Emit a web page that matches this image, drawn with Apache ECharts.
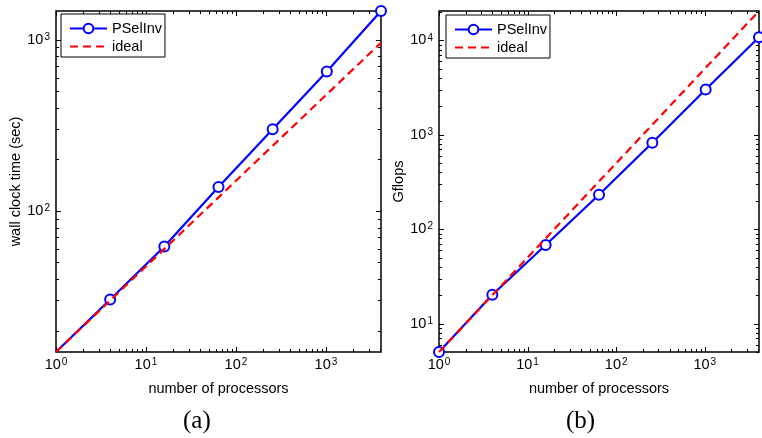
<!DOCTYPE html>
<html>
<head>
<meta charset="utf-8">
<script src="https://cdn.jsdelivr.net/npm/echarts@6/dist/echarts.min.js"></script>
<style>
html,body{margin:0;padding:0;background:#fff;}
#chart{width:762px;height:438px;}
</style>
</head>
<body>
<div id="chart"></div>
<script>
// ---- data ----
const processors = [1, 4, 16, 64, 256, 1024, 4096];
const timePSelInv = [15, 30.4, 62, 138, 300, 651, 1470];
const timeIdeal = [15, 30, 60, 120, 240, 480, 960];
const gflopsPSelInv = [5, 20.2, 68, 232, 824, 3020, 10800];
const gflopsIdeal = [5, 20, 80, 320, 1280, 5120, 20480];
const xTickLabels = [1, 10, 100, 1000];
const timeTickLabels = [100, 1000];
const gflopsTickLabels = [10, 100, 1000, 10000];
const xRange = [1, 4096];
const timeRange = [15, 1470];
const gflopsRange = [5, 20480];
const seriesNames = ['PSelInv', 'ideal'];
const captions = ['(a)', '(b)'];
const xTitle = 'number of processors';
const yTitles = ['wall clock time (sec)', 'Gflops'];

const FONT = '"Liberation Sans", Arial, Helvetica, sans-serif';

function pairs(xs, ys) { return xs.map((x, i) => [x, ys[i]]); }

function logTicks(range) {
  const out = [];
  const d0 = Math.floor(Math.log10(range[0]));
  const d1 = Math.ceil(Math.log10(range[1]));
  for (let d = d0; d <= d1; d++) {
    for (let m = 1; m <= 9; m++) {
      const v = m * Math.pow(10, d);
      if (v >= range[0] * 0.9999 && v <= range[1] * 1.0001) out.push({ v: v, major: m === 1 });
    }
  }
  return out;
}

function tickRenderer(xr, yr) {
  return function (params, api) {
    const bl = api.coord([xr[0], yr[0]]);
    const tr = api.coord([xr[1], yr[1]]);
    const ch = [];
    const st = { stroke: '#000', lineWidth: 1 };
    logTicks(xr).forEach(t => {
      const x = Math.round(api.coord([t.v, yr[0]])[0]) + 0.5;
      const L = t.major ? 5 : 3;
      ch.push({ type: 'line', shape: { x1: x, y1: bl[1], x2: x, y2: bl[1] - L }, style: st });
      ch.push({ type: 'line', shape: { x1: x, y1: tr[1], x2: x, y2: tr[1] + L }, style: st });
    });
    logTicks(yr).forEach(t => {
      const y = Math.round(api.coord([xr[0], t.v])[1]) + 0.5;
      const L = t.major ? 5 : 3;
      ch.push({ type: 'line', shape: { x1: bl[0], y1: y, x2: bl[0] + L, y2: y }, style: st });
      ch.push({ type: 'line', shape: { x1: tr[0], y1: y, x2: tr[0] - L, y2: y }, style: st });
    });
    return { type: 'group', children: ch };
  };
}

function powLabel(allowed) {
  return function (v) {
    for (const a of allowed) {
      if (Math.abs(v - a) / a < 1e-6) {
        const e = Math.round(Math.log10(a));
        return '{b|10}{s|' + e + '}';
      }
    }
    return '';
  };
}

const rich = {
  b: { fontSize: 14.5, lineHeight: 15, fontFamily: FONT, color: '#000', verticalAlign: 'bottom' },
  s: { fontSize: 10, lineHeight: 11, fontFamily: FONT, color: '#000', verticalAlign: 'top', padding: [0, 0, 10, 1] }
};

function xAxisDef(gi) {
  return {
    type: 'log', logBase: 10, gridIndex: gi, min: xRange[0], max: xRange[1],
    axisLine: { show: false }, axisTick: { show: false }, splitLine: { show: false },
    minorTick: { show: false },
    axisLabel: { formatter: powLabel(xTickLabels), rich: rich, margin: 5, showMinLabel: true, showMaxLabel: true, hideOverlap: false },
    name: xTitle, nameLocation: 'middle', nameGap: 25,
    nameTextStyle: { fontFamily: FONT, fontSize: 14.5, color: '#000' }
  };
}
function yAxisDef(gi, range, labels, title, gap) {
  return {
    type: 'log', logBase: 10, gridIndex: gi, min: range[0], max: range[1],
    axisLine: { show: false }, axisTick: { show: false }, splitLine: { show: false },
    minorTick: { show: false },
    axisLabel: { formatter: powLabel(labels), rich: rich, margin: 6, hideOverlap: false },
    name: title, nameLocation: 'middle', nameGap: gap,
    nameTextStyle: { fontFamily: FONT, fontSize: 14.5, color: '#000' }
  };
}

function lineSeries(gi, name, xs, ys, hideFirst) {
  const isIdeal = name === 'ideal';
  const data = pairs(xs, ys).map((p, i) => (hideFirst && i === 0) ? { value: p, symbol: 'none' } : p);
  return {
    type: 'line', name: name, xAxisIndex: gi, yAxisIndex: gi,
    data: data,
    symbol: isIdeal ? 'none' : 'emptyCircle',
    symbolSize: 10,
    showSymbol: !isIdeal,
    clip: false,
    lineStyle: isIdeal ? { color: '#ff0000', width: 2.2, type: [8, 5] } : { color: '#0000ff', width: 2.2 },
    itemStyle: isIdeal ? { color: '#ff0000' } : { color: '#0000ff', borderWidth: 2.2, borderColor: '#0000ff' },
    emphasis: { disabled: true },
    z: isIdeal ? 5 : 4,
    animation: false
  };
}

function legendDef(left, top) {
  return {
    data: [{ name: seriesNames[0] }, { name: seriesNames[1], itemStyle: { opacity: 0 } }],
    orient: 'vertical', left: left, top: top,
    backgroundColor: '#fff', borderColor: '#000', borderWidth: 1,
    padding: [7, 3, 3, 8], itemGap: 3, itemWidth: 37, itemHeight: 12,
    textStyle: { fontFamily: FONT, fontSize: 14.5, color: '#000' },
    selectedMode: false
  };
}

const chart = echarts.init(document.getElementById('chart'), null, { renderer: 'canvas' });
chart.setOption({
  animation: false,
  backgroundColor: '#fff',
  grid: [
    { left: 56, top: 11, width: 325, height: 341, show: true, borderColor: '#000', borderWidth: 1.5, backgroundColor: 'transparent' },
    { left: 439, top: 11, width: 325, height: 341, show: true, borderColor: '#000', borderWidth: 1.5, backgroundColor: 'transparent' }
  ],
  xAxis: [xAxisDef(0), xAxisDef(1)],
  yAxis: [
    yAxisDef(0, timeRange, timeTickLabels, yTitles[0], 28),
    yAxisDef(1, gflopsRange, gflopsTickLabels, yTitles[1], 30)
  ],
  legend: [legendDef(61, 14), legendDef(446, 15)],
  series: [
    lineSeries(0, 'PSelInv', processors, timePSelInv, true),
    lineSeries(0, 'ideal', processors, timeIdeal, false),
    lineSeries(1, 'PSelInv', processors, gflopsPSelInv, false),
    lineSeries(1, 'ideal', processors, gflopsIdeal, false),
    { type: 'custom', xAxisIndex: 0, yAxisIndex: 0, data: [[xRange[0], timeRange[0]]], renderItem: tickRenderer(xRange, timeRange), silent: true, z: 1 },
    { type: 'custom', xAxisIndex: 1, yAxisIndex: 1, data: [[xRange[0], gflopsRange[0]]], renderItem: tickRenderer(xRange, gflopsRange), silent: true, z: 1 }
  ],
  graphic: [
    { type: 'text', left: 183, top: 409, style: { text: captions[0], fontFamily: '"Liberation Serif", "DejaVu Serif", serif', fontSize: 25, fill: '#000' } },
    { type: 'text', left: 566, top: 409, style: { text: captions[1], fontFamily: '"Liberation Serif", "DejaVu Serif", serif', fontSize: 25, fill: '#000' } }
  ]
});
</script>
</body>
</html>
